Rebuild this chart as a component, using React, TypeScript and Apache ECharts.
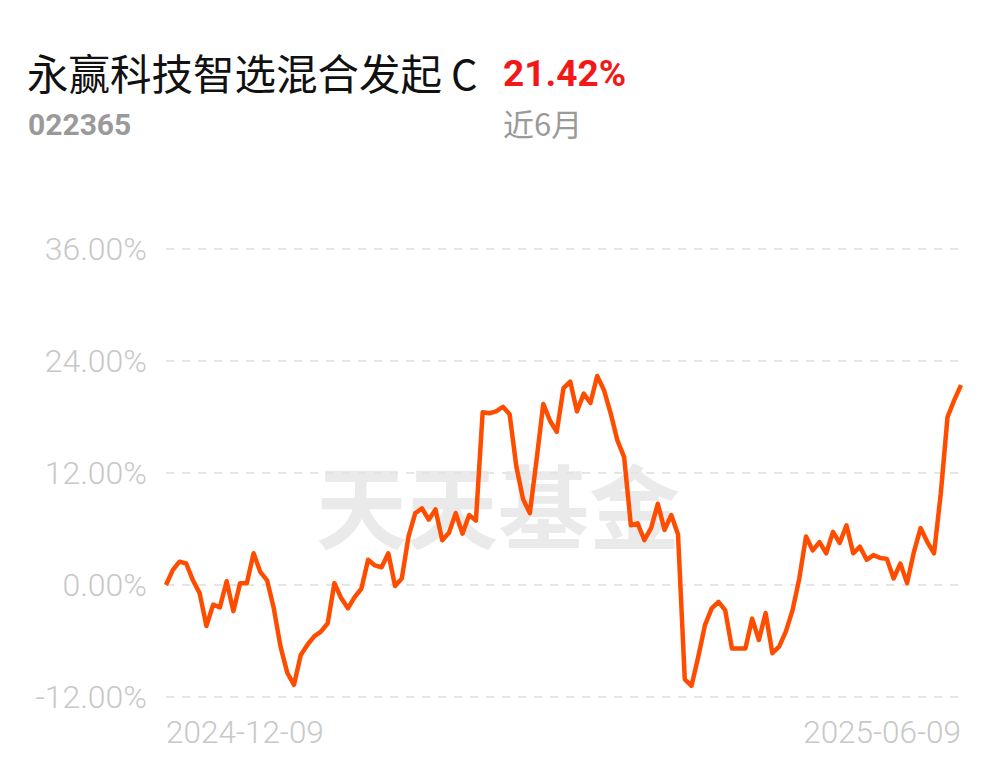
import React, { useEffect, useRef } from "react";
import * as echarts from "echarts";

const fundNameMain = "永赢科技智选混合发起";
const fundNameClass = "C";
const fundCode = "022365";
const periodReturn = "21.42%";
const periodLabel = "近6月";
const watermark = "天天基金";
const xTickLabels = ["2024-12-09", "2025-06-09"];
const yTicks = { min: -12, max: 36, interval: 12 };

const returns: number[] = [
  0, 1.6, 2.5, 2.3, 0.5, -0.9, -4.4, -2.1, -2.4, 0.4,
  -2.8, 0.2, 0.2, 3.4, 1.4, 0.5, -2.5, -6.6, -9.4, -10.7,
  -7.5, -6.4, -5.5, -5.0, -4.1, 0.2, -1.4, -2.5, -1.3, -0.4,
  2.7, 2.1, 1.9, 3.4, -0.1, 0.7, 5.2, 7.7, 8.2, 7.0,
  8.1, 4.8, 5.6, 7.7, 5.5, 7.5, 6.9, 18.5, 18.4, 18.6,
  19.1, 18.3, 12.7, 9.2, 7.7, 13.4, 19.4, 17.6, 16.4, 21.1,
  21.8, 18.6, 20.5, 19.5, 22.4, 20.9, 18.4, 15.5, 13.7, 6.4,
  6.6, 4.8, 6.1, 8.7, 5.9, 7.5, 5.4, -10.1, -10.8, -7.7,
  -4.3, -2.5, -1.8, -2.7, -6.8, -6.8, -6.8, -3.6, -5.9, -3.0,
  -7.3, -6.6, -5.0, -2.7, 0.7, 5.2, 3.7, 4.6, 3.4, 5.7,
  4.5, 6.4, 3.4, 4.1, 2.7, 3.2, 2.9, 2.8, 0.7, 2.3,
  0.2, 3.5, 6.1, 4.6, 3.4, 9.8, 18.0, 19.8, 21.42,
];

export default function App() {
  const ref = useRef<HTMLDivElement>(null);
  useEffect(() => {
    if (!ref.current) return;
    const chart = echarts.init(ref.current, null, { renderer: "svg" });
    const cats = returns.map((_, i) => String(i));
    const last = returns.length - 1;
    chart.setOption({
      animation: false,
      backgroundColor: "#ffffff",
      grid: { left: 166, right: 40, top: 249, bottom: 69 },
      graphic: [
        {
          type: "text",
          left: 27,
          top: 51,
          style: {
            text: "{a|" + fundNameMain + "}{c|" + fundNameClass + "}",
            rich: {
              a: { fontSize: 41.5, fill: "#111", color: "#111", fontFamily: "Noto Sans CJK SC" },
              c: { fontSize: 41.5, fill: "#111", color: "#111", fontFamily: "Noto Sans CJK SC", padding: [0, 0, 0, 9] },
            },
          },
        },
        {
          type: "text",
          left: 503,
          top: 55,
          style: { text: periodReturn, fontSize: 37, fontWeight: "bold", fill: "#f21818", fontFamily: "Roboto" },
        },
        {
          type: "text",
          left: 28,
          top: 109,
          style: { text: fundCode, fontSize: 30, fontWeight: "bold", fill: "#9a9a9a", fontFamily: "Roboto" },
        },
        {
          type: "text",
          left: 503,
          top: 107,
          style: { text: periodLabel, fontSize: 31, fill: "#9a9a9a", fontFamily: "Noto Sans CJK SC" },
        },
        {
          type: "text",
          left: 316,
          top: 456,
          z: -10,
          style: { text: watermark, fontSize: 91, fontWeight: "bold", fill: "#eaeaea", fontFamily: "Noto Sans CJK SC" },
        },
      ],
      xAxis: {
        type: "category",
        data: cats,
        boundaryGap: false,
        axisLine: { show: false },
        axisTick: { show: false },
        splitLine: { show: false },
        axisLabel: {
          interval: (i: number) => i === 0 || i === last,
          formatter: (_v: string, i: number) => (i === 0 ? xTickLabels[0] : xTickLabels[1]),
          alignMinLabel: "left",
          alignMaxLabel: "right",
          color: "#c8c8c8",
          fontSize: 31.5,
          fontFamily: "Roboto",
          fontWeight: 300,
          margin: 19,
        },
      },
      yAxis: {
        type: "value",
        min: yTicks.min,
        max: yTicks.max,
        interval: yTicks.interval,
        axisLine: { show: false },
        axisTick: { show: false },
        axisLabel: {
          formatter: (v: number) => v.toFixed(2) + "%",
          color: "#c8c8c8",
          fontSize: 32,
          fontFamily: "Roboto",
          fontWeight: 300,
          margin: 19,
        },
        splitLine: { lineStyle: { color: "#e5e5e5", type: [8, 8], width: 2 } },
      },
      series: [
        {
          type: "line",
          data: returns,
          symbol: "none",
          lineStyle: { color: "#ff4d00", width: 4.5, join: "round" },
          z: 5,
        },
      ],
    });
    return () => chart.dispose();
  }, []);
  return (
    <div
      ref={ref}
      style={{ position: "fixed", left: 0, top: 0, width: 1001, height: 766, background: "#fff" }}
    />
  );
}
